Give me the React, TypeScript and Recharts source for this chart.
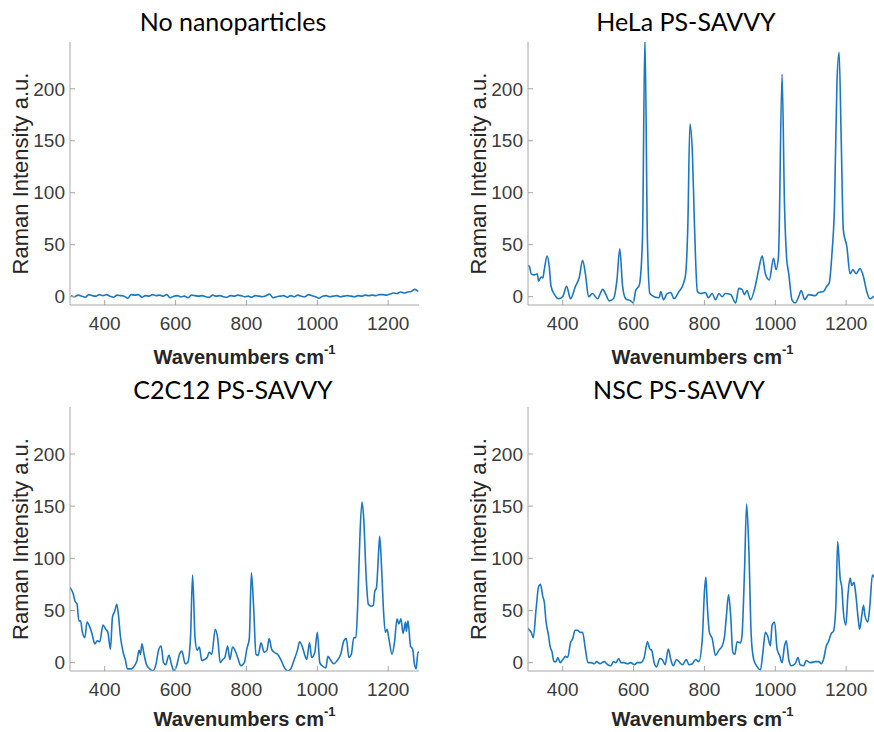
import { LineChart, Line, XAxis, YAxis } from "recharts"

// Raman spectra, wavenumber (cm^-1) vs intensity (a.u.)
const controlShift = [
    305, 315, 325, 335, 345, 355, 365, 375, 385, 395, 405, 415, 425, 435, 445, 455, 465, 475, 485, 495,
    505, 515, 525, 535, 545, 555, 565, 575, 585, 595, 605, 615, 625, 635, 645, 655, 665, 675, 685, 695,
    705, 715, 725, 735, 745, 755, 765, 775, 785, 795, 805, 815, 825, 835, 845, 855, 865, 875, 885, 895,
    905, 915, 925, 935, 945, 955, 965, 975, 985, 995, 1005, 1015, 1025, 1035, 1045, 1055, 1065, 1075, 1085, 1095,
    1105, 1115, 1125, 1135, 1145, 1155, 1165, 1175, 1185, 1195, 1205, 1215, 1225, 1235, 1245, 1255, 1265, 1275, 1285
]
const controlIntensity = [
    1, 0, 1.5, 0.5, -0.5, 2, 1, 0.5, 2, 1, 2, 0.5, -0.5, 1.5, 1, 0.5, -1.5, 2, 1.5, 2,
    -0.5, 1, 0.5, 2, 1, 1.5, 0.5, 2, -1, 0.5, 1, 0, 0.5, -1, 1.5, 1, 0.5, 1, 0, -0.5,
    1.5, 0.5, 1, 0, -0.5, 1, 0.5, 1.5, 1, 0, 0.5, -0.5, 1, 0.5, 0, 1, 2.5, -1, 0, 0.5,
    1, -0.5, 1, 0, 1.5, 0.5, 0, 2, 1, 0, -1.5, 0.5, 1, 0, 0.5, 1, 0, 0.5, 1, 0.5,
    0, 1, 0.5, 1.5, 1, 1.5, 1, 2, 2, 1.5, 2.5, 3.5, 3, 4.5, 3.5, 4.5, 5, 7, 5
]

const helaShift = [
    302, 306, 311, 320, 328, 332, 339, 344, 348, 356, 362, 367, 377, 388, 400, 411, 422, 436, 447, 456,
    464, 473, 484, 498, 513, 522, 531, 543, 553, 561, 569, 578, 592, 599, 606, 616, 625, 632, 639, 646,
    658, 672, 677, 684, 695, 705, 714, 728, 739, 747, 753, 759, 766, 772, 780, 789, 803, 811, 822, 831,
    841, 850, 859, 874, 888, 897, 906, 913, 920, 930, 944, 953, 963, 972, 983, 995, 1002, 1009, 1019, 1026,
    1032, 1038, 1047, 1056, 1066, 1073, 1083, 1094, 1113, 1122, 1136, 1145, 1152, 1160, 1167, 1174, 1180, 1186, 1192, 1202,
    1211, 1219, 1228, 1239, 1249, 1258, 1267, 1277, 1287
]
const helaIntensity = [
    30, 29, 22, 21, 22, 15, 19, 18, 26, 39, 29, 10, 2, -2, 0, 10, -2, 10, 19, 35,
    22, 0, 3, -2, 7, 2, -4, -2, 16, 46, 10, -2, -4, -6, 6, 11, 55, 250, 55, 3,
    0, -1, 5, -3, 3, 4, -2, 5, 11, 22, 67, 166, 138, 67, 5, 3, 4, -1, 3, -3,
    3, 0, 3, 2, -6, 8, 7, 2, 6, -3, 11, 26, 39, 22, 16, 37, 26, 39, 214, 87,
    37, 22, -3, -6, 0, 6, -3, 2, 1, 4, 5, 10, 13, 42, 87, 206, 235, 151, 64, 48,
    22, 26, 22, 27, 19, 5, -2, 0, 2
]

const c2c12Shift = [
    302, 304, 311, 316, 322, 327, 332, 337, 344, 350, 358, 364, 372, 379, 386, 395, 403, 409, 416, 422,
    428, 434, 439, 444, 452, 458, 464, 475, 484, 491, 497, 501, 505, 511, 517, 527, 536, 545, 552, 559,
    566, 572, 581, 588, 595, 603, 611, 618, 627, 634, 642, 648, 655, 661, 667, 674, 681, 689, 695, 702,
    712, 719, 726, 733, 739, 747, 753, 761, 770, 777, 784, 794, 801, 808, 814, 820, 827, 833, 841, 850,
    858, 864, 871, 878, 888, 897, 906, 916, 925, 934, 944, 950, 958, 964, 970, 978, 984, 993, 1000, 1007,
    1014, 1024, 1030, 1038, 1047, 1056, 1066, 1075, 1082, 1089, 1096, 1103, 1109, 1114, 1120, 1126, 1131, 1138, 1144, 1152,
    1158, 1162, 1167, 1173, 1176, 1181, 1186, 1192, 1197, 1202, 1211, 1218, 1225, 1230, 1236, 1242, 1249, 1251, 1256, 1263,
    1269, 1274, 1279, 1284, 1287
]
const c2c12Intensity = [
    72, 71, 66, 59, 56, 40, 40, 29, 24, 39, 34, 28, 18, 21, 20, 36, 32, 29, 13, 44,
    49, 56, 45, 26, 10, 3, -6, -6, -3, 2, 12, 8, 18, 8, -1, -6, -8, -1, 12, 16,
    0, -2, 7, -1, -8, -3, 8, 11, -1, 0, 23, 84, 23, 12, 15, 2, 3, 5, 10, 8,
    32, 23, 0, 3, 5, 16, 3, 15, 10, 3, -3, 0, 13, 23, 86, 55, 8, 7, 19, 10,
    12, 23, 13, 10, 8, 3, -4, -8, -6, 2, 12, 20, 15, 8, 3, 19, 5, 10, 29, 0,
    -3, -5, 6, 2, -1, 2, 8, 21, 23, 5, 8, 24, 24, 55, 119, 154, 138, 81, 56, 54,
    55, 68, 72, 106, 121, 94, 55, 29, 32, 23, 8, 20, 42, 37, 42, 28, 39, 30, 40, 16,
    13, -1, -6, 10, 10
]

const nscShift = [
    302, 304, 311, 317, 325, 332, 337, 344, 348, 353, 360, 364, 370, 375, 381, 386, 393, 400, 408, 414,
    422, 428, 435, 442, 449, 456, 464, 471, 480, 489, 496, 505, 517, 527, 536, 543, 550, 558, 564, 573,
    583, 592, 602, 611, 620, 630, 639, 646, 651, 658, 665, 674, 681, 689, 698, 705, 712, 721, 728, 738,
    749, 756, 766, 775, 784, 794, 800, 804, 808, 814, 822, 831, 841, 850, 857, 862, 868, 874, 880, 886,
    892, 902, 906, 913, 919, 925, 932, 939, 949, 958, 965, 972, 978, 986, 991, 998, 1005, 1012, 1019, 1026,
    1031, 1038, 1045, 1056, 1064, 1070, 1080, 1087, 1099, 1113, 1122, 1130, 1136, 1144, 1150, 1158, 1164, 1171, 1176, 1183,
    1188, 1192, 1199, 1205, 1211, 1216, 1222, 1227, 1233, 1238, 1244, 1249, 1253, 1261, 1267, 1274, 1279, 1287
]
const nscIntensity = [
    33, 32, 29, 24, 52, 73, 75, 63, 58, 39, 26, 16, 10, 1, 1, 5, 0, 3, 6, 5,
    19, 23, 31, 31, 29, 29, 13, 0, 0, -1, 1, -1, 1, -2, -3, 1, 0, 4, 0, 0,
    -1, 0, -2, 0, 0, 5, 20, 13, 12, 0, -4, 4, 3, -2, 13, 3, -3, 3, 1, -2,
    3, -2, -1, 3, 1, 23, 68, 82, 55, 29, 23, 7, 12, 16, 26, 45, 65, 45, 10, 8,
    20, 19, 26, 87, 152, 112, 26, 3, -4, -7, 10, 29, 26, 16, 36, 39, 13, 7, 0, 16,
    21, 3, -3, -1, 5, -2, -3, 2, 0, 1, 1, -1, 3, 16, 20, 28, 30, 55, 116, 81,
    71, 49, 36, 65, 81, 74, 77, 66, 45, 32, 45, 55, 45, 39, 55, 84, 82, 80
]

const xTicks = [400, 600, 800, 1000, 1200]
const yTicks = [0, 50, 100, 150, 200]
const xDomain = [302, 1287]
const yDomain = [-8, 245]

const LINE_COLOR = "#1a78c2"
const AXIS_COLOR = "#a6a6a6"
const SANS = "Liberation Sans"

const toPoints = (shift: number[], intensity: number[]) =>
    shift.map((w, i) => ({ w, v: intensity[i] }))

const panels = [
    { title: "No nanoparticles", data: toPoints(controlShift, controlIntensity), plotLeft: 70, plotTop: 42, plotHeight: 263, titleX: 233, titleY: 31 },
    { title: "HeLa PS-SAVVY", data: toPoints(helaShift, helaIntensity), plotLeft: 528, plotTop: 42, plotHeight: 263, titleX: 686, titleY: 31 },
    { title: "C2C12 PS-SAVVY", data: toPoints(c2c12Shift, c2c12Intensity), plotLeft: 70, plotTop: 407, plotHeight: 264, titleX: 233, titleY: 399 },
    { title: "NSC PS-SAVVY", data: toPoints(nscShift, nscIntensity), plotLeft: 528, plotTop: 407, plotHeight: 264, titleX: 679, titleY: 399 }
]

const PLOT_WIDTH = 349
const Y_AXIS_W = 70
const X_AXIS_H = 40
const TOP_PAD = 10
const RIGHT_PAD = 10

function Spectrum({ data, plotLeft, plotTop, plotHeight }: any) {
    const tickStyle = { fill: "#3c3c3c", fontSize: 19, fontFamily: SANS }
    return (
        <div style={{ position: "absolute", left: plotLeft - Y_AXIS_W, top: plotTop - TOP_PAD }}>
            <LineChart
                width={Y_AXIS_W + PLOT_WIDTH + RIGHT_PAD}
                height={TOP_PAD + plotHeight + X_AXIS_H}
                data={data}
                margin={{ top: TOP_PAD, right: RIGHT_PAD, bottom: 0, left: 0 }}
            >
                <XAxis
                    xAxisId="bottom"
                    type="number"
                    dataKey="w"
                    domain={xDomain}
                    ticks={xTicks}
                    interval={0}
                    allowDataOverflow
                    height={X_AXIS_H}
                    stroke={AXIS_COLOR}
                    tickSize={-5}
                    tickMargin={17}
                    tick={tickStyle}
                />
                <XAxis
                    xAxisId="top"
                    orientation="top"
                    type="number"
                    dataKey="w"
                    domain={xDomain}
                    ticks={xTicks}
                    interval={0}
                    allowDataOverflow
                    height={0}
                    stroke={AXIS_COLOR}
                    tickSize={-5}
                    tick={false}
                />
                <YAxis
                    yAxisId="left"
                    type="number"
                    domain={yDomain}
                    ticks={yTicks}
                    interval={0}
                    allowDataOverflow
                    width={Y_AXIS_W}
                    stroke={AXIS_COLOR}
                    tickSize={-5}
                    tickMargin={10}
                    tick={tickStyle}
                />
                <YAxis
                    yAxisId="right"
                    orientation="right"
                    type="number"
                    domain={yDomain}
                    ticks={yTicks}
                    interval={0}
                    allowDataOverflow
                    width={0}
                    stroke={AXIS_COLOR}
                    tickSize={-5}
                    tick={false}
                />
                <Line
                    xAxisId="bottom"
                    yAxisId="left"
                    type="monotone"
                    dataKey="v"
                    stroke={LINE_COLOR}
                    strokeWidth={1.6}
                    dot={false}
                    isAnimationActive={false}
                />
            </LineChart>
        </div>
    )
}

export default function App() {
    return (
        <div style={{ position: "fixed", left: 0, top: 0, width: 874, height: 732, overflow: "hidden", background: "#fff" }}>
            {panels.map(p => (
                <Spectrum key={p.title} {...p} />
            ))}
            <svg width={874} height={732} style={{ position: "absolute", left: 0, top: 0, pointerEvents: "none" }}>
                {panels.map(p => {
                    const cx = p.plotLeft + PLOT_WIDTH / 2
                    const cy = p.plotTop + p.plotHeight / 2
                    const labelY = Math.min(p.plotTop + p.plotHeight + 59, 726)
                    return (
                        <g key={p.title}>
                            <text x={p.titleX} y={p.titleY} textAnchor="middle" fontFamily="Lato" fontSize={25} fill="#000">
                                {p.title}
                            </text>
                            <text
                                transform={`translate(${p.plotLeft - 42}, ${cy}) rotate(-90)`}
                                textAnchor="middle"
                                fontFamily={SANS}
                                fontSize={22}
                                fill="#262626"
                            >
                                Raman Intensity a.u.
                            </text>
                            <text x={cx} y={labelY} textAnchor="middle" fontFamily={SANS} fontSize={20} fontWeight="bold" fill="#262626">
                                Wavenumbers cm
                                <tspan dy={-10} fontSize={13}>-1</tspan>
                            </text>
                        </g>
                    )
                })}
            </svg>
        </div>
    )
}
